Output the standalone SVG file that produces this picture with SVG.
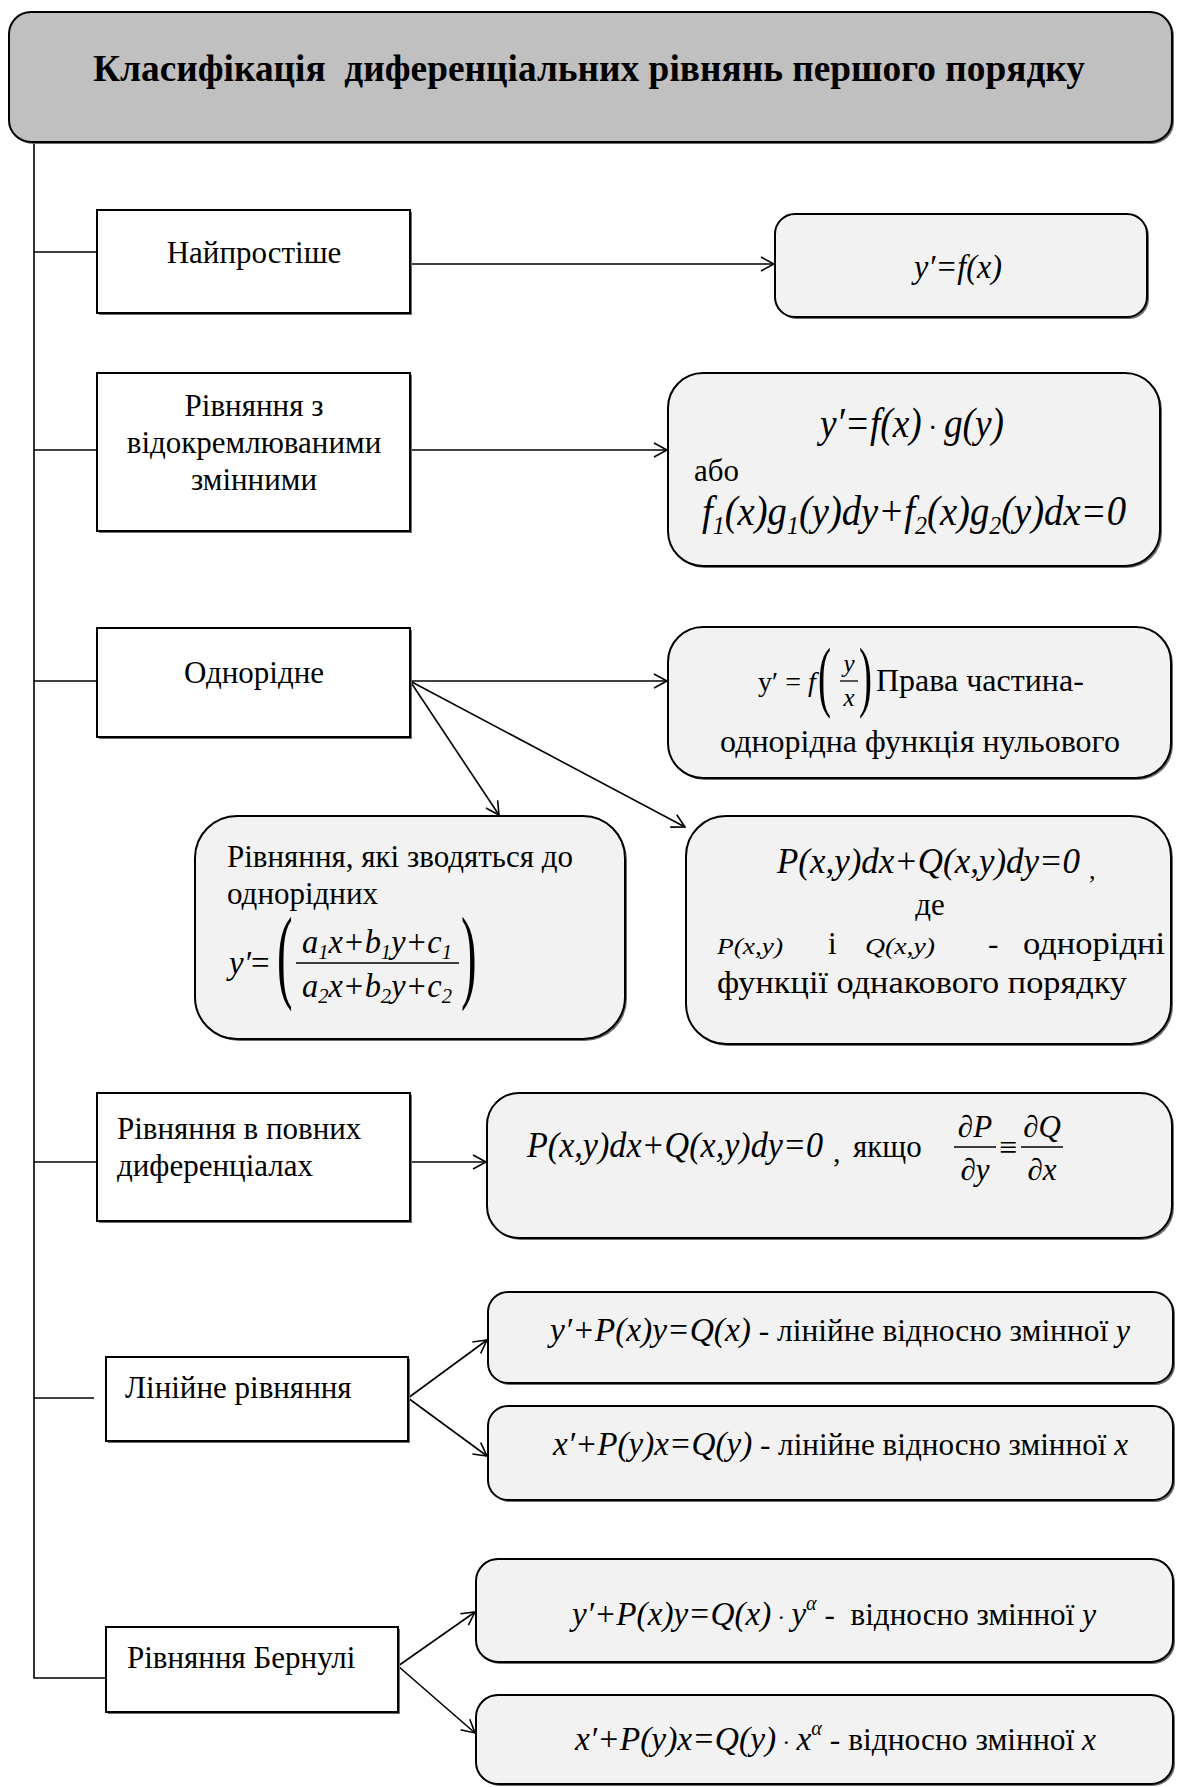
<svg xmlns="http://www.w3.org/2000/svg" width="1178" height="1787" viewBox="0 0 1178 1787" font-family="'Liberation Serif', Tinos, 'Times New Roman', 'DejaVu Serif', serif">
<style>
svg{font-size:31px}
.box{fill:#ffffff;stroke:#000;stroke-width:2}
.rbox{fill:#f2f2f2;stroke:#000;stroke-width:2}
.title{fill:#c0c0c0;stroke:#000;stroke-width:2}
.sh{fill:#6e6e6e;stroke:none}
.t{font-family:'Liberation Serif',Tinos,'Times New Roman','DejaVu Serif',serif;fill:#000}
.i{font-style:italic}
.c{text-anchor:middle}
.ln{stroke:#000;stroke-width:1.6;fill:none}
.bar{stroke:#000;stroke-width:1.3}
</style>
<defs>
<marker id="arr" markerWidth="18" markerHeight="18" refX="14" refY="9" orient="auto" markerUnits="userSpaceOnUse">
<path d="M1,2 L14,9 L1,16" fill="none" stroke="#000" stroke-width="1.6"/>
</marker>
</defs>

<g id="connectors">
<path class="ln" d="M34,142 V1678 H106"/>
<line class="ln" x1="34" y1="252" x2="97" y2="252"/>
<line class="ln" x1="34" y1="450" x2="97" y2="450"/>
<line class="ln" x1="34" y1="681" x2="97" y2="681"/>
<line class="ln" x1="34" y1="1162" x2="97" y2="1162"/>
<line class="ln" x1="34" y1="1398" x2="94" y2="1398"/>
<line class="ln" x1="410" y1="264" x2="774" y2="264" marker-end="url(#arr)"/>
<line class="ln" x1="410" y1="450" x2="667" y2="450" marker-end="url(#arr)"/>
<line class="ln" x1="410" y1="681" x2="667" y2="681" marker-end="url(#arr)"/>
<line class="ln" x1="410" y1="681" x2="499" y2="815" marker-end="url(#arr)"/>
<line class="ln" x1="410" y1="681" x2="685" y2="827" marker-end="url(#arr)"/>
<line class="ln" x1="410" y1="1162" x2="486" y2="1162" marker-end="url(#arr)"/>
<line class="ln" x1="408" y1="1398" x2="487" y2="1340" marker-end="url(#arr)"/>
<line class="ln" x1="408" y1="1398" x2="487" y2="1456" marker-end="url(#arr)"/>
<line class="ln" x1="398" y1="1666" x2="475" y2="1612" marker-end="url(#arr)"/>
<line class="ln" x1="398" y1="1666" x2="475" y2="1733" marker-end="url(#arr)"/>
</g>

<g id="title">
<rect class="sh" x="11" y="14" width="1163" height="130" rx="22"/>
<rect class="title" x="9" y="12" width="1163" height="130" rx="22"/>
<text class="t c" x="589" y="81" font-size="37" font-weight="bold" textLength="992" lengthAdjust="spacingAndGlyphs" xml:space="preserve">Класифікація  диференціальних рівнянь першого порядку</text>
</g>

<g id="n-simplest">
<rect class="sh" x="99" y="212" width="313" height="103"/>
<rect class="box" x="97" y="210" width="313" height="103"/>
<text class="t c" x="254" y="263">Найпростіше</text>
</g>
<g id="r-simplest">
<rect class="sh" x="777" y="216" width="372" height="103" rx="20"/>
<rect class="rbox" x="775" y="214" width="372" height="103" rx="20"/>
<text class="t c i" x="958" y="278" font-size="33" textLength="88" lengthAdjust="spacingAndGlyphs">y′=f(x)</text>
</g>

<g id="n-separable">
<rect class="sh" x="99" y="375" width="313" height="158"/>
<rect class="box" x="97" y="373" width="313" height="158"/>
<text class="t c" x="254" y="416">Рівняння з</text>
<text class="t c" x="254" y="453">відокремлюваними</text>
<text class="t c" x="254" y="490">змінними</text>
</g>
<g id="r-separable">
<rect class="sh" x="670" y="375" width="492" height="193" rx="35"/>
<rect class="rbox" x="668" y="373" width="492" height="193" rx="35"/>
<text class="t c i" x="912" y="437" font-size="42" textLength="184" lengthAdjust="spacingAndGlyphs" xml:space="preserve">y′=f(x)<tspan font-style="normal" font-size="30"> · </tspan>g(y)</text>
<text class="t" x="694" y="481">або</text>
<text class="t i" x="702" y="525" font-size="42" textLength="424" lengthAdjust="spacingAndGlyphs">f<tspan font-size="26" dy="9">1</tspan><tspan dy="-9">(x)g</tspan><tspan font-size="26" dy="9">1</tspan><tspan dy="-9">(y)dy+f</tspan><tspan font-size="26" dy="9">2</tspan><tspan dy="-9">(x)g</tspan><tspan font-size="26" dy="9">2</tspan><tspan dy="-9">(y)dx=0</tspan></text>
</g>

<g id="n-homog">
<rect class="sh" x="99" y="630" width="313" height="109"/>
<rect class="box" x="97" y="628" width="313" height="109"/>
<text class="t c" x="254" y="683">Однорідне</text>
</g>
<g id="r-homog">
<rect class="sh" x="670" y="629" width="503" height="151" rx="35"/>
<rect class="rbox" x="668" y="627" width="503" height="151" rx="35"/>
<text class="t" x="758" y="691" font-size="28" xml:space="preserve">y′ = <tspan font-style="italic">f</tspan></text>
<text class="t" transform="translate(818,702) scale(0.5,1)" font-size="78">(</text>
<text class="t i c" x="849" y="672" font-size="25">y</text>
<line class="bar" x1="840" y1="681" x2="858" y2="681"/>
<text class="t i c" x="849" y="706" font-size="25">x</text>
<text class="t" transform="translate(859,702) scale(0.5,1)" font-size="78">)</text>
<text class="t" x="876" y="691" font-size="32">Права частина-</text>
<text class="t c" x="920" y="752" font-size="32">однорідна функція нульового</text>
</g>

<g id="r-reducible">
<rect class="sh" x="197" y="818" width="430" height="223" rx="42"/>
<rect class="rbox" x="195" y="816" width="430" height="223" rx="42"/>
<text class="t" x="227" y="867">Рівняння, які зводяться до</text>
<text class="t" x="227" y="904">однорідних</text>
<text class="t i" x="229" y="974" font-size="33">y′<tspan font-style="normal">=</tspan></text>
<text class="t" transform="translate(277,989) scale(0.45,1)" font-size="104">(</text>
<text class="t i c" x="377" y="953" font-size="33" textLength="150" lengthAdjust="spacingAndGlyphs">a<tspan font-size="21" dy="6">1</tspan><tspan dy="-6">x+b</tspan><tspan font-size="21" dy="6">1</tspan><tspan dy="-6">y+c</tspan><tspan font-size="21" dy="6">1</tspan></text>
<line class="bar" x1="296" y1="963" x2="459" y2="963"/>
<text class="t i c" x="377" y="997" font-size="33" textLength="150" lengthAdjust="spacingAndGlyphs">a<tspan font-size="21" dy="6">2</tspan><tspan dy="-6">x+b</tspan><tspan font-size="21" dy="6">2</tspan><tspan dy="-6">y+c</tspan><tspan font-size="21" dy="6">2</tspan></text>
<text class="t" transform="translate(461,989) scale(0.45,1)" font-size="104">)</text>
</g>

<g id="r-homog-pq">
<rect class="sh" x="688" y="818" width="485" height="228" rx="40"/>
<rect class="rbox" x="686" y="816" width="485" height="228" rx="40"/>
<text class="t i" x="777" y="873" font-size="36" textLength="303" lengthAdjust="spacingAndGlyphs">P(x,y)dx+Q(x,y)dy=0</text>
<text class="t" x="1089" y="879" font-size="26">,</text>
<text class="t c" x="930" y="915">де</text>
<text class="t i" x="717" y="954" font-size="23" textLength="66" lengthAdjust="spacingAndGlyphs">P(x,y)</text>
<text class="t" x="828" y="954">і</text>
<text class="t i" x="865" y="954" font-size="23" textLength="70" lengthAdjust="spacingAndGlyphs">Q(x,y)</text>
<text class="t" x="988" y="954">-</text>
<text class="t" x="1023" y="954" font-size="32" textLength="142" lengthAdjust="spacingAndGlyphs">однорідні</text>
<text class="t" x="717" y="993" font-size="32" textLength="410" lengthAdjust="spacingAndGlyphs">функції однакового порядку</text>
</g>

<g id="n-exact">
<rect class="sh" x="99" y="1095" width="313" height="128"/>
<rect class="box" x="97" y="1093" width="313" height="128"/>
<text class="t" x="117" y="1139">Рівняння в повних</text>
<text class="t" x="117" y="1176">диференціалах</text>
</g>
<g id="r-exact">
<rect class="sh" x="489" y="1095" width="685" height="145" rx="32"/>
<rect class="rbox" x="487" y="1093" width="685" height="145" rx="32"/>
<text class="t i" x="527" y="1157" font-size="36" textLength="296" lengthAdjust="spacingAndGlyphs">P(x,y)dx+Q(x,y)dy=0</text>
<text class="t" x="833" y="1162" font-size="30">,</text>
<text class="t" x="853" y="1157" font-size="31">якщо</text>
<text class="t c" x="975" y="1137" font-size="31">∂<tspan font-style="italic">P</tspan></text>
<line class="bar" x1="954" y1="1147" x2="996" y2="1147"/>
<text class="t c" x="975" y="1180" font-size="31">∂<tspan font-style="italic">y</tspan></text>
<text class="t c" x="1008" y="1158" font-size="32">≡</text>
<text class="t c" x="1042" y="1137" font-size="31">∂<tspan font-style="italic">Q</tspan></text>
<line class="bar" x1="1021" y1="1147" x2="1063" y2="1147"/>
<text class="t c" x="1042" y="1180" font-size="31">∂<tspan font-style="italic">x</tspan></text>
</g>

<g id="n-linear">
<rect class="sh" x="108" y="1359" width="302" height="84"/>
<rect class="box" x="106" y="1357" width="302" height="84"/>
<text class="t" x="125" y="1398">Лінійне рівняння</text>
</g>
<g id="r-linear-y">
<rect class="sh" x="490" y="1294" width="685" height="91" rx="20"/>
<rect class="rbox" x="488" y="1292" width="685" height="91" rx="20"/>
<text class="t" x="550" y="1341" textLength="580" lengthAdjust="spacingAndGlyphs" xml:space="preserve"><tspan class="i" font-size="33">y′+P(x)y=Q(x)</tspan> - лінійне відносно змінної <tspan class="i">y</tspan></text>
</g>
<g id="r-linear-x">
<rect class="sh" x="490" y="1408" width="685" height="94" rx="20"/>
<rect class="rbox" x="488" y="1406" width="685" height="94" rx="20"/>
<text class="t" x="553" y="1455" textLength="575" lengthAdjust="spacingAndGlyphs" xml:space="preserve"><tspan class="i" font-size="33">x′+P(y)x=Q(y)</tspan> - лінійне відносно змінної <tspan class="i">x</tspan></text>
</g>

<g id="n-bernoulli">
<rect class="sh" x="108" y="1629" width="292" height="85"/>
<rect class="box" x="106" y="1627" width="292" height="85"/>
<text class="t" x="127" y="1668">Рівняння Бернулі</text>
</g>
<g id="r-bernoulli-y">
<rect class="sh" x="478" y="1561" width="697" height="103" rx="22"/>
<rect class="rbox" x="476" y="1559" width="697" height="103" rx="22"/>
<text class="t" x="572" y="1625" textLength="524" lengthAdjust="spacingAndGlyphs" xml:space="preserve"><tspan class="i" font-size="33">y′+P(x)y=Q(x)</tspan><tspan font-size="24"> · </tspan><tspan class="i" font-size="33">y</tspan><tspan class="i" font-size="20" dy="-15">α</tspan><tspan dy="15"> -  відносно змінної </tspan><tspan class="i">y</tspan></text>
</g>
<g id="r-bernoulli-x">
<rect class="sh" x="478" y="1697" width="697" height="89" rx="22"/>
<rect class="rbox" x="476" y="1695" width="697" height="89" rx="22"/>
<text class="t" x="575" y="1750" textLength="521" lengthAdjust="spacingAndGlyphs" xml:space="preserve"><tspan class="i" font-size="33">x′+P(y)x=Q(y)</tspan><tspan font-size="24"> · </tspan><tspan class="i" font-size="33">x</tspan><tspan class="i" font-size="20" dy="-15">α</tspan><tspan dy="15"> - відносно змінної </tspan><tspan class="i">x</tspan></text>
</g>
</svg>
